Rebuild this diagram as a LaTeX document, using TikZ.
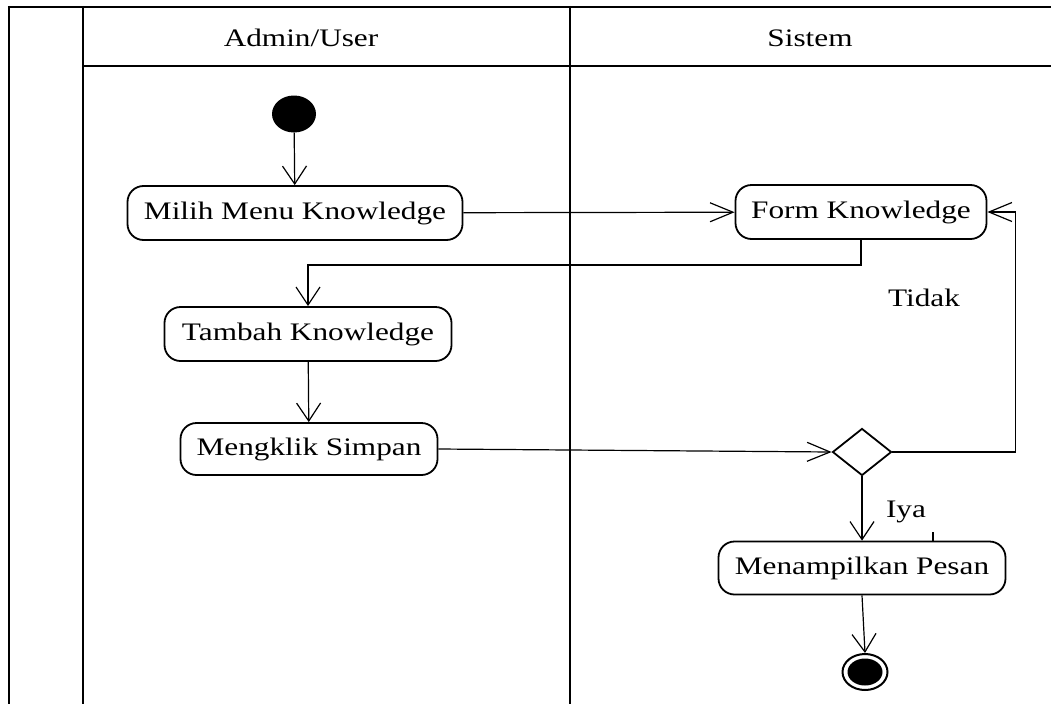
\documentclass[tikz,border=0pt]{standalone}
\usepackage{fontspec}
\setmainfont[FakeStretch=1.24]{Liberation Serif}
\usetikzlibrary{arrows.meta,shapes.geometric}

\tikzset{
  lane/.style={line width=2.4pt},
  action/.style={draw, line width=1.8pt, rounded corners=16pt, inner sep=0pt,
                 font=\fontsize{25.2}{30}\selectfont},
  label/.style={font=\fontsize{25.2}{30}\selectfont, inner sep=0pt},
  flow/.style={line width=1.2pt},
  vhead/.style={-{Straight Barb[length=18pt,width=24pt,line width=1.2pt]}},
  hhead/.style={-{Straight Barb[length=23pt,width=19pt,line width=1.2pt]}},
  decision/.style={draw, diamond, line width=1.8pt, inner sep=0pt,
                   minimum width=59pt, minimum height=47pt},
}

\begin{document}
\begin{tikzpicture}[x=1pt,y=-1pt]
  \fill[white] (0,0) rectangle (1051,704);
  \useasboundingbox (0,0) rectangle (1051,704);

  % swimlane frame
  \draw[lane] (7.8,7) -- (1051,7);
  \draw[lane] (9,5.8) -- (9,704);
  \draw[lane] (83,5.8) -- (83,704);
  \draw[lane] (570,5.8) -- (570,704);
  \draw[line width=2pt] (83,66) -- (1051,66);

  % lane headers
  \node[label] (hadmin) at (301,38) {Admin/User};
  \node[label] (hsistem) at (810,38) {Sistem};

  % activities
  \node[ellipse, fill=black, minimum width=44pt, minimum height=37pt, inner sep=0pt] (start) at (294,114) {};
  \node[action, minimum width=335pt, minimum height=54pt] (milih) at (295,213) {Milih Menu Knowledge};
  \node[action, minimum width=251pt, minimum height=54pt] (form) at (861,212) {Form Knowledge};
  \node[action, minimum width=287pt, minimum height=54pt] (tambah) at (308,334) {Tambah Knowledge};
  \node[action, minimum width=257pt, minimum height=52pt] (klik) at (309,449) {Mengklik Simpan};
  \node[decision] (cek) at (862,452) {};
  \node[action, minimum width=287pt, minimum height=53pt] (pesan) at (862,568) {Menampilkan Pesan};
  \node[ellipse, draw, line width=2pt, fill=white, minimum width=45pt, minimum height=36pt, inner sep=0pt] (finish) at (865,672) {};
  \node[ellipse, fill=black, minimum width=35pt, minimum height=27pt, inner sep=0pt] (finishdot) at (finish.center) {};

  % control flow
  \draw[flow, vhead] (start) -- (milih);
  \draw[flow, hhead] (milih) -- (form);
  \draw[flow, vhead] (form.south) -- ++(0,25) -| (tambah.north);
  \draw[flow, vhead] (tambah) -- (klik);
  \draw[flow, hhead] (klik.east) -- (cek.west);
  \draw[flow, hhead] (cek.east) -- ++(123,0) |- (form.east);
  \draw[flow, vhead] (cek.south) -- (pesan.north);
  \draw[flow, vhead] (pesan.south) -- (finish.north);

  % guards
  \node[label] (tidak) at (924,298) {Tidak};
  \node[label] (iya) at (906,512) {Iya};
  \draw[flow] (933,532) -- (933,541);
\end{tikzpicture}
\end{document}
